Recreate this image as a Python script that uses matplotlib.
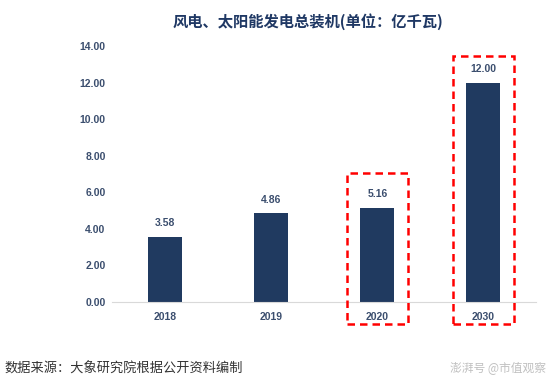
import matplotlib.pyplot as plt
from matplotlib.patches import Rectangle

plt.rcParams['font.family'] = ['Noto Sans CJK SC', 'DejaVu Sans']

# datos
years = ["2018", "2019", "2020", "2030"]
values = [3.58, 4.86, 5.16, 12.00]
yticks = [0, 2, 4, 6, 8, 10, 12, 14]
highlight = [2, 3]          # indices marcados con recuadro rojo
highlight_pad = [1.9, 1.45]  # margen sobre la barra

bar_color = "#203a60"
text_color = "#3b4e6e"
num_font = ["Liberation Sans", "DejaVu Sans"]

fig = plt.figure(figsize=(5.54, 3.84), dpi=100)
ax = fig.add_axes([0.203, 0.2135, 0.765, 0.6665])

x = range(len(years))
ax.bar(x, values, width=0.32, color=bar_color, zorder=2)

for i, v in zip(x, values):
    ax.text(i, v + 0.45, f"{v:.2f}", ha="center", va="bottom",
            fontsize=7.5, color=text_color, fontweight="bold", family=num_font)

# recuadros rojos
for i, pad in zip(highlight, highlight_pad):
    r = Rectangle((i - 0.29, -1.2), 0.58, values[i] + pad + 1.2,
                  fill=False, edgecolor="#ff0000", linestyle=(0, (3, 2)),
                  linewidth=1.8, clip_on=False, zorder=3)
    ax.add_patch(r)

ax.set_xlim(-0.5, 3.5)
ax.set_ylim(0, 14)
ax.set_xticks(list(x))
ax.set_xticklabels(years, fontsize=7.5, color=text_color, fontweight="bold",
                   family=num_font)
ax.set_yticks(yticks)
ax.set_yticklabels([f"{t:.2f}" for t in yticks], fontsize=7.5, color=text_color,
                   fontweight="bold", family=num_font)
ax.tick_params(length=0)
ax.tick_params(axis="x", pad=7)
ax.tick_params(axis="y", pad=5)

for s in ["top", "right", "left"]:
    ax.spines[s].set_visible(False)
ax.spines["bottom"].set_color("#d9d9d9")

fig.text(0.555, 0.945, "风电、太阳能发电总装机(单位：亿千瓦)", ha="center", va="center",
         fontsize=11, fontweight="bold", color="#1f3864")

fig.text(0.008, 0.04, "数据来源：大象研究院根据公开资料编制", ha="left", va="center",
         fontsize=9.5, color="#333333")
fig.text(0.985, 0.04, "澎湃号 @市值观察", ha="right", va="center",
         fontsize=8.5, color="#c0c0c0")

fig.savefig("out.png", dpi=100)
